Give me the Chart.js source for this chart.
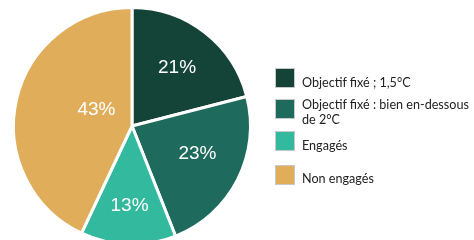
<!DOCTYPE html>
<html>
<head>
<meta charset="utf-8">
<script src="https://cdn.jsdelivr.net/npm/chart.js@4"></script>
<style>
  html, body { margin: 0; padding: 0; background: #ffffff; }
  body { width: 474px; height: 240px; overflow: hidden; position: relative; font-family: Lato, "Liberation Sans", Arial, sans-serif; }
  #wrap { position: absolute; left: 0; top: 0; width: 474px; height: 260px; }
  .item { position: absolute; left: 275px; width: 199px; display: flex; align-items: flex-start; color: #222; font-size: 12.6px; }
  .box { width: 18px; height: 18px; border: 1px solid #c8c8c8; flex: none; margin-right: 7px; }
  .txt { line-height: 15px; position: relative; white-space: nowrap; }
</style>
</head>
<body>
<div id="wrap"><canvas id="pie"></canvas></div>
<div id="legend"></div>
<script>
// Share of companies by climate target (multi-line labels as arrays)
const categories = ['Objectif fixé ; 1,5°C', ['Objectif fixé : bien en-dessous', 'de 2°C'], 'Engagés', 'Non engagés'];
const shares = [21, 23, 13, 43];
const colors = ['#144338', '#1e6b5d', '#33b99d', '#e0ad5b'];

// label distance from centre (fraction of radius) and angle nudge in degrees
const labelRadius = [0.62, 0.6, 0.67, 0.33];
const labelNudge = [0, -4, 0, 12];
// legend rows: top of each box, and text shift against it
const legendTop = [68, 99, 131, 165];
const legendTextShift = [7, -2, 7, 6];

const pctLabels = {
  id: 'pctLabels',
  afterDatasetsDraw(chart) {
    const ctx = chart.ctx;
    const meta = chart.getDatasetMeta(0);
    ctx.save();
    ctx.fillStyle = '#ffffff';
    ctx.font = '19px "Liberation Sans", Arial, sans-serif';
    ctx.textAlign = 'center';
    ctx.textBaseline = 'middle';
    meta.data.forEach((arc, i) => {
      const p = arc.getProps(['x', 'y', 'startAngle', 'endAngle', 'outerRadius']);
      const a = (p.startAngle + p.endAngle) / 2 + labelNudge[i] * Math.PI / 180;
      const r = p.outerRadius * labelRadius[i];
      ctx.fillText(shares[i] + '%', p.x + Math.cos(a) * r, p.y + Math.sin(a) * r);
    });
    ctx.restore();
  }
};

new Chart(document.getElementById('pie'), {
  type: 'pie',
  data: {
    labels: categories,
    datasets: [{
      data: shares,
      backgroundColor: colors,
      borderColor: '#ffffff',
      borderWidth: 3
    }]
  },
  options: {
    responsive: true,
    maintainAspectRatio: false,
    animation: false,
    layout: { padding: { left: 12, right: 222, top: 6, bottom: 14 } },
    plugins: {
      legend: { display: false },
      tooltip: { enabled: false }
    }
  },
  plugins: [pctLabels]
});

// HTML legend built from the same arrays
const legend = document.getElementById('legend');
categories.forEach((name, i) => {
  const item = document.createElement('div');
  item.className = 'item';
  item.style.top = legendTop[i] + 'px';
  const box = document.createElement('div');
  box.className = 'box';
  box.style.background = colors[i];
  const txt = document.createElement('div');
  txt.className = 'txt';
  txt.style.top = legendTextShift[i] + 'px';
  [].concat(name).forEach((line, k) => {
    if (k > 0) txt.appendChild(document.createElement('br'));
    txt.appendChild(document.createTextNode(line));
  });
  item.appendChild(box);
  item.appendChild(txt);
  legend.appendChild(item);
});
</script>
</body>
</html>
